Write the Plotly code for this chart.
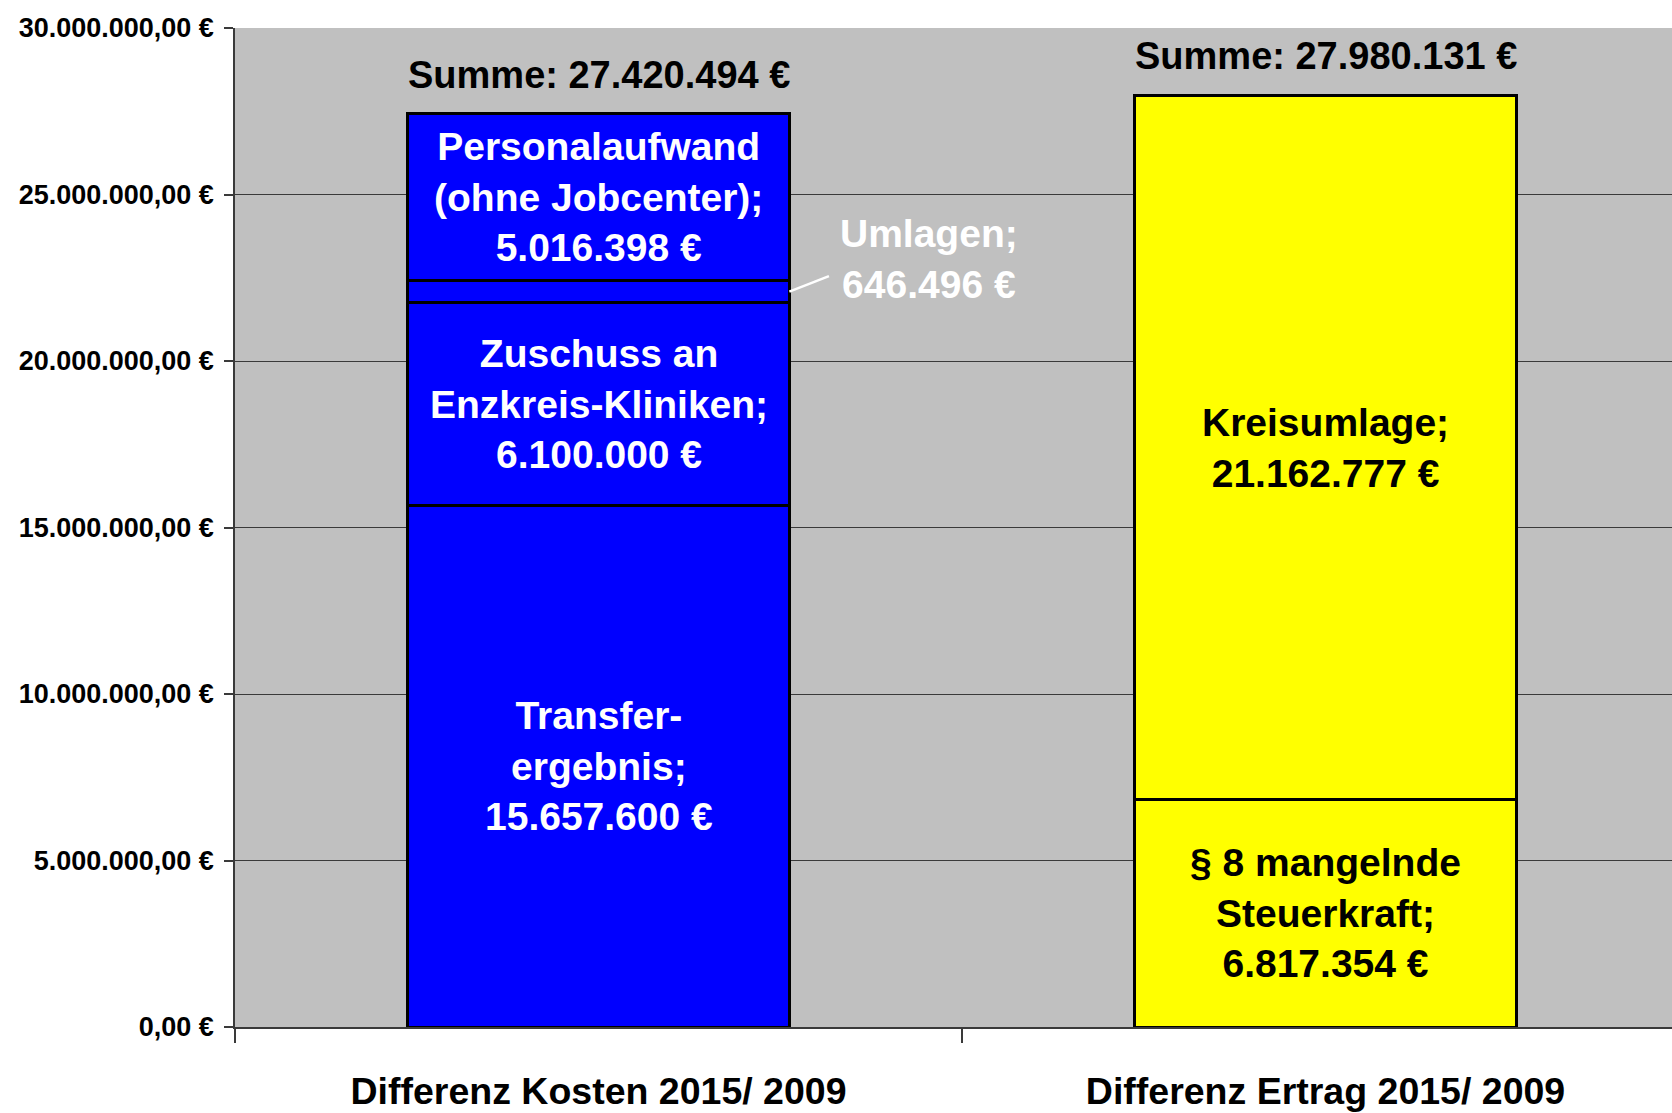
import plotly.graph_objects as go

# Kategorien und Werte (Differenz 2015/2009)
kategorien = ["Differenz Kosten 2015/ 2009", "Differenz Ertrag 2015/ 2009"]

kosten_namen = ["Transfer-<br>ergebnis;", "Zuschuss an<br>Enzkreis-Kliniken;", "Umlagen;", "Personalaufwand<br>(ohne Jobcenter);"]
kosten_werte = [15657600, 6100000, 646496, 5016398]

ertrag_namen = ["§ 8 mangelnde<br>Steuerkraft;", "Kreisumlage;"]
ertrag_werte = [6817354, 21162777]

y_ticks = [0, 5000000, 10000000, 15000000, 20000000, 25000000, 30000000]
y_ticktext = ["0,00 €", "5.000.000,00 €", "10.000.000,00 €", "15.000.000,00 €",
              "20.000.000,00 €", "25.000.000,00 €", "30.000.000,00 €"]

BLAU = "#0000FF"
GELB = "#FFFF00"
SCHRIFT = "Liberation Sans Narrow, Arial Narrow, Liberation Sans, Arial, sans-serif"


def euro(v):
    return f"{v:,.0f}".replace(",", ".") + " €"


def schrift(size, color="black"):
    return dict(size=size, color=color, family=SCHRIFT, weight="bold")


fig = go.Figure()
anmerkungen = []

# linke Säule: Kosten
basis = 0
for name, wert in zip(kosten_namen, kosten_werte):
    fig.add_trace(go.Bar(x=[kategorien[0]], y=[wert], marker=dict(color=BLAU, line=dict(color="black", width=3)),
                         width=0.525, hoverinfo="skip"))
    if name != "Umlagen;":
        anmerkungen.append(dict(x=kategorien[0], y=basis + wert / 2, text=name + "<br>" + euro(wert),
                                font=schrift(39, "white")))
    else:
        umlagen_mitte = basis + wert / 2
        anmerkungen.append(dict(x=0.455, y=23060000, text=name + "<br>" + euro(wert),
                                font=schrift(39, "white")))
    basis += wert
summe_kosten = basis

# rechte Säule: Ertrag
basis = 0
for name, wert in zip(ertrag_namen, ertrag_werte):
    fig.add_trace(go.Bar(x=[kategorien[1]], y=[wert], marker=dict(color=GELB, line=dict(color="black", width=3)),
                         width=0.525, hoverinfo="skip"))
    anmerkungen.append(dict(x=kategorien[1], y=basis + wert / 2, text=name + "<br>" + euro(wert),
                            font=schrift(39)))
    basis += wert
summe_ertrag = basis

for kat, summe in zip(kategorien, [summe_kosten, summe_ertrag]):
    anmerkungen.append(dict(x=kat, y=summe, yshift=39, text="Summe: " + euro(summe), font=schrift(38)))

for a in anmerkungen:
    a.update(xref="x", yref="y", showarrow=False, xanchor="center", yanchor="middle")

# Verbindungslinie zum Umlagen-Label
fig.add_shape(type="line", xref="x", yref="y", x0=0.2625, y0=umlagen_mitte, x1=0.317, y1=22550000,
              line=dict(color="white", width=2.5))

fig.update_layout(
    width=1672, height=1113,
    barmode="stack",
    showlegend=False,
    paper_bgcolor="white",
    plot_bgcolor="#C0C0C0",
    margin=dict(l=235, r=0, t=28, b=86),
    annotations=anmerkungen,
)
fig.update_xaxes(
    type="category", range=[-0.5, 1.4766],
    showgrid=False, showline=True, linecolor="#3a3a3a", linewidth=1.5,
    ticks="outside", tickson="boundaries", ticklen=14, tickcolor="#3a3a3a", tickwidth=1.5,
    tickfont=schrift(37.5), ticklabelstandoff=30,
)
fig.update_yaxes(
    range=[0, 30000000], tickvals=y_ticks, ticktext=y_ticktext,
    showgrid=True, gridcolor="#3a3a3a", gridwidth=1,
    showline=True, linecolor="#3a3a3a", linewidth=1.5, zeroline=False,
    ticks="outside", ticklen=9, tickcolor="#3a3a3a", tickwidth=1.5,
    tickfont=schrift(27), ticklabelstandoff=5,
)

fig.write_html("out.html", config={"displayModeBar": False},
               post_script="document.body.style.margin='0';")
